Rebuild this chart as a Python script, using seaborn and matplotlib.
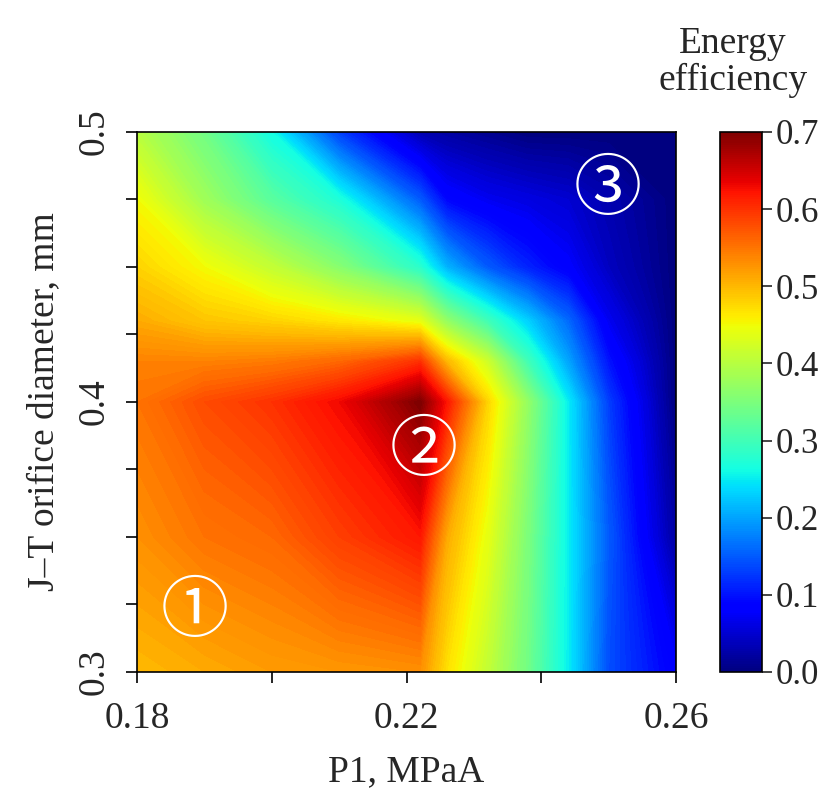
import numpy as np
import pandas as pd
import matplotlib
matplotlib.use('Agg')
import matplotlib.pyplot as plt
import seaborn as sns

sns.set_theme(style='ticks')
plt.rcParams['font.family'] = ['Liberation Serif', 'DejaVu Serif']

# grid nodes (P1, MPaA) and (orifice diameter, mm)
P1_VALUES = [0.18, 0.19, 0.20, 0.21, 0.222, 0.226, 0.232, 0.238, 0.244, 0.25, 0.26]
DIAMETER_VALUES = [0.30, 0.35, 0.40, 0.415, 0.43, 0.45, 0.475, 0.50]

# energy efficiency, one row per diameter (bottom to top)
EFF_0300 = [0.50, 0.51, 0.52, 0.525, 0.53, 0.47, 0.41, 0.34, 0.25, 0.14, 0.08]
EFF_0350 = [0.53, 0.55, 0.56, 0.59, 0.62, 0.51, 0.44, 0.35, 0.25, 0.15, 0.02]
EFF_0400 = [0.55, 0.58, 0.60, 0.63, 0.70, 0.62, 0.48, 0.37, 0.25, 0.13, 0.00]
EFF_0415 = [0.54, 0.54, 0.545, 0.56, 0.60, 0.50, 0.42, 0.30, 0.20, 0.10, 0.00]
EFF_0430 = [0.51, 0.49, 0.48, 0.465, 0.44, 0.37, 0.30, 0.23, 0.16, 0.07, 0.00]
EFF_0450 = [0.48, 0.45, 0.41, 0.36, 0.28, 0.21, 0.15, 0.11, 0.08, 0.04, 0.00]
EFF_0475 = [0.45, 0.38, 0.32, 0.27, 0.15, 0.09, 0.07, 0.06, 0.05, 0.03, 0.00]
EFF_0500 = [0.40, 0.34, 0.26, 0.13, 0.03, 0.02, 0.01, 0.00, 0.00, 0.00, 0.00]

REGION_LABELS = ['①', '②', '③']
REGION_X = [0.1886, 0.2225, 0.2498]
REGION_Y = [0.322, 0.3815, 0.478]


def build_grid() -> pd.DataFrame:
    rows = [EFF_0300, EFF_0350, EFF_0400, EFF_0415, EFF_0430, EFF_0450, EFF_0475, EFF_0500]
    return pd.DataFrame(rows, index=DIAMETER_VALUES, columns=P1_VALUES)


def main() -> None:
    grid = build_grid()
    cmap = matplotlib.colormaps['jet']

    fig = plt.figure(figsize=(8.21, 7.98), dpi=100)
    ax = fig.add_axes([0.1669, 0.1579, 0.6565, 0.6767])
    cax = fig.add_axes([0.877, 0.1579, 0.0512, 0.6767])

    X, Y = np.meshgrid(grid.columns.values, grid.index.values)
    levels = np.linspace(0, 0.7, 141)
    filled = ax.contourf(X, Y, grid.values, levels=levels, cmap=cmap, vmin=0, vmax=0.7,
                         extend='both', antialiased=False)

    ax.set_xlim(0.18, 0.26)
    ax.set_ylim(0.3, 0.5)
    ax.set_xticks([0.18, 0.22, 0.26])
    ax.set_xticklabels(['0.18', '0.22', '0.26'])
    ax.set_xticks([0.20, 0.24], minor=True)
    ax.set_yticks([0.3, 0.4, 0.5])
    ax.set_yticklabels(['0.3', '0.4', '0.5'], rotation=90, va='center')
    ax.set_yticks([0.325, 0.35, 0.375, 0.425, 0.45, 0.475], minor=True)
    ax.tick_params(which='both', direction='out', length=8, width=1.2, color='black',
                   labelsize=27)
    ax.tick_params(axis='x', which='both', pad=13)
    ax.tick_params(axis='y', which='both', pad=10)
    for spine in ax.spines.values():
        spine.set_color('black')
        spine.set_linewidth(1.2)

    ax.set_xlabel('P1, MPaA', fontsize=27, labelpad=14)
    ax.set_ylabel('J–T orifice diameter, mm', fontsize=27, labelpad=12)

    for label, x, y in zip(REGION_LABELS, REGION_X, REGION_Y):
        ax.text(x, y, label, color='white', fontsize=49, ha='center', va='center',
                family=['Noto Sans CJK JP', 'DejaVu Sans'])

    sm = matplotlib.cm.ScalarMappable(norm=matplotlib.colors.Normalize(0, 0.7), cmap=cmap)
    cbar = fig.colorbar(sm, cax=cax)
    cbar.set_ticks([0.0, 0.1, 0.2, 0.3, 0.4, 0.5, 0.6, 0.7])
    cbar.set_ticklabels(['0.0', '0.1', '0.2', '0.3', '0.4', '0.5', '0.6', '0.7'])
    cbar.ax.tick_params(direction='out', length=7, width=1.2, labelsize=25, pad=3)
    cbar.outline.set_linewidth(1.2)
    cbar.outline.set_edgecolor('black')
    fig.text(0.893, 0.922, 'Energy\nefficiency', ha='center', va='center',
             fontsize=27, linespacing=1.1)

    fig.savefig('out.png', dpi=100)
    plt.close(fig)


if __name__ == '__main__':
    main()
